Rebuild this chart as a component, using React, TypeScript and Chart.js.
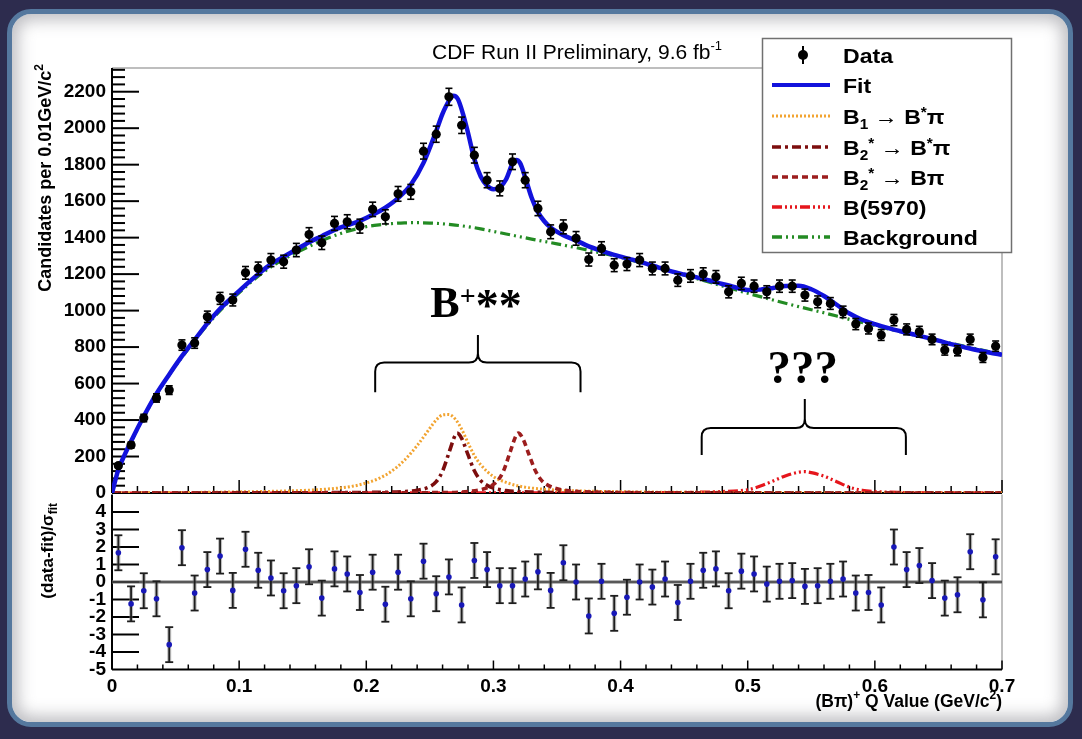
import React, { useEffect, useRef } from "react";
import { Chart, registerables } from "chart.js";

Chart.register(...registerables);

// ---------------- data ----------------
const binCenters = [0.005, 0.015, 0.025, 0.035, 0.045, 0.055, 0.065, 0.075, 0.085, 0.095,
  0.105, 0.115, 0.125, 0.135, 0.145, 0.155, 0.165, 0.175, 0.185, 0.195,
  0.205, 0.215, 0.225, 0.235, 0.245, 0.255, 0.265, 0.275, 0.285, 0.295,
  0.305, 0.315, 0.325, 0.335, 0.345, 0.355, 0.365, 0.375, 0.385, 0.395,
  0.405, 0.415, 0.425, 0.435, 0.445, 0.455, 0.465, 0.475, 0.485, 0.495,
  0.505, 0.515, 0.525, 0.535, 0.545, 0.555, 0.565, 0.575, 0.585, 0.595,
  0.605, 0.615, 0.625, 0.635, 0.645, 0.655, 0.665, 0.675, 0.685, 0.695];

const candidates = [150, 263, 411, 521, 564, 811, 822, 966, 1067, 1058,
  1207, 1231, 1277, 1268, 1332, 1417, 1372, 1478, 1487, 1463,
  1555, 1514, 1640, 1651, 1874, 1967, 2172, 2016, 1852, 1715,
  1670, 1816, 1715, 1560, 1432, 1459, 1396, 1280, 1341, 1249,
  1255, 1277, 1231, 1231, 1167, 1190, 1200, 1185, 1103, 1149,
  1134, 1103, 1134, 1134, 1085, 1048, 1039, 993, 926, 902,
  866, 948, 897, 884, 842, 784, 780, 842, 743, 805];

const pulls = [1.67, -1.25, -0.5, -0.96, -3.58, 1.96, -0.63, 0.71, 1.48, -0.48,
  1.87, 0.67, 0.23, -0.5, -0.21, 0.87, -0.92, 0.75, 0.46, -0.6,
  0.56, -1.27, 0.56, -0.96, 1.19, -0.67, 0.29, -1.31, 1.23, 0.71,
  -0.21, -0.21, 0.17, 0.58, -0.48, 1.1, 0.0, -1.94, 0.04, -1.79,
  -0.87, 0.0, -0.29, 0.17, -1.17, 0.04, 0.67, 0.75, -0.5, 0.62,
  0.46, -0.12, 0.04, 0.08, -0.25, -0.21, 0.04, 0.17, -0.63, -0.6,
  -1.31, 2.0, 0.71, 0.94, 0.08, -0.92, -0.73, 1.73, -1.02, 1.44];

const fitQ = [0, 0.005, 0.01, 0.015, 0.025, 0.035, 0.045, 0.055, 0.065, 0.075, 0.085, 0.095,
  0.105, 0.115, 0.125, 0.135, 0.145, 0.155, 0.165, 0.175, 0.185, 0.195, 0.205, 0.215, 0.225,
  0.235, 0.245, 0.255, 0.26, 0.265, 0.2685, 0.272, 0.276, 0.28, 0.285, 0.29, 0.295, 0.3, 0.305,
  0.31, 0.315, 0.318, 0.321, 0.325, 0.33, 0.335, 0.34, 0.345, 0.355, 0.365, 0.375, 0.385, 0.395,
  0.41, 0.42, 0.43, 0.44, 0.45, 0.46, 0.47, 0.48, 0.49, 0.5, 0.51, 0.52, 0.53, 0.54, 0.55, 0.56,
  0.57, 0.58, 0.59, 0.6, 0.61, 0.62, 0.63, 0.64, 0.65, 0.66, 0.67, 0.68, 0.69, 0.7];
const fitV = [0, 128, 210, 284, 421, 545, 650, 750, 840, 930, 1010, 1075,
  1140, 1200, 1255, 1295, 1335, 1375, 1408, 1442, 1468, 1492, 1525, 1565, 1617,
  1690, 1810, 1985, 2080, 2150, 2178, 2160, 2080, 1975, 1830, 1735, 1685, 1665, 1675,
  1720, 1805, 1825, 1808, 1730, 1620, 1540, 1490, 1455, 1413, 1385, 1352, 1328, 1305,
  1278, 1258, 1236, 1215, 1198, 1182, 1165, 1146, 1128, 1113, 1115, 1124, 1135, 1136, 1117, 1080,
  1032, 984, 950, 926, 905, 887, 870, 853, 835, 816, 800, 784, 770, 758];

const bgQ = [0, 0.005, 0.01, 0.02, 0.03, 0.04, 0.05, 0.06, 0.07, 0.08, 0.09, 0.1, 0.11, 0.12,
  0.13, 0.14, 0.15, 0.16, 0.17, 0.18, 0.19, 0.2, 0.21, 0.22, 0.23, 0.24, 0.25, 0.26, 0.27, 0.28,
  0.29, 0.3, 0.31, 0.32, 0.33, 0.34, 0.35, 0.36, 0.37, 0.38, 0.39, 0.4, 0.42, 0.44, 0.46, 0.48,
  0.5, 0.52, 0.54, 0.56, 0.58, 0.6, 0.62, 0.64, 0.66, 0.68, 0.7];
const bgV = [0, 126, 208, 350, 480, 595, 697, 790, 880, 962, 1035, 1098, 1160, 1215,
  1262, 1300, 1335, 1368, 1398, 1423, 1444, 1460, 1470, 1477, 1481, 1482, 1480, 1476, 1469, 1460,
  1448, 1434, 1420, 1406, 1392, 1379, 1366, 1352, 1338, 1323, 1308, 1292, 1255, 1215, 1175, 1135,
  1095, 1058, 1022, 988, 952, 918, 884, 852, 820, 790, 758];

const b1Q = [0, 0.1, 0.15, 0.17, 0.19, 0.2, 0.21, 0.22, 0.23, 0.24, 0.25, 0.255, 0.26, 0.265,
  0.27, 0.275, 0.28, 0.285, 0.29, 0.3, 0.31, 0.32, 0.33, 0.35, 0.4, 0.5, 0.7];
const b1V = [0, 6, 14, 22, 38, 55, 80, 120, 180, 260, 355, 400, 428, 430,
  405, 350, 275, 205, 155, 90, 58, 38, 27, 16, 7, 3, 1];

const b2BstarQ = [0, 0.2, 0.23, 0.24, 0.25, 0.255, 0.26, 0.265, 0.27, 0.2715, 0.275, 0.28,
  0.285, 0.29, 0.295, 0.3, 0.31, 0.33, 0.4, 0.7];
const b2BstarV = [0, 3, 8, 15, 35, 62, 120, 220, 318, 328, 300, 210, 122, 68, 42, 27, 13, 5, 1, 0];

const b2BQ = [0, 0.26, 0.28, 0.29, 0.298, 0.303, 0.308, 0.313, 0.318, 0.3195, 0.323, 0.328,
  0.333, 0.338, 0.343, 0.348, 0.358, 0.38, 0.45, 0.7];
const b2BV = [0, 2, 8, 18, 38, 65, 122, 222, 318, 328, 300, 210, 122, 68, 42, 27, 13, 5, 1, 0];

const b5970Q = [0, 0.4, 0.45, 0.48, 0.5, 0.505, 0.51, 0.52, 0.53, 0.54, 0.545, 0.55, 0.56,
  0.57, 0.58, 0.585, 0.59, 0.6, 0.62, 0.65, 0.7];
const b5970V = [0, 1, 3, 8, 18, 26, 38, 66, 95, 114, 117, 112, 92, 62, 32, 22, 15, 8, 3, 1, 0];

const topYTicks = [0, 200, 400, 600, 800, 1000, 1200, 1400, 1600, 1800, 2000, 2200];
const resYTicks = [-5, -4, -3, -2, -1, 0, 1, 2, 3, 4];
const xTickValues = [0, 0.1, 0.2, 0.3, 0.4, 0.5, 0.6, 0.7];
const xTickLabels = ["0", "0.1", "0.2", "0.3", "0.4", "0.5", "0.6", "0.7"];

// ---------------- styles ----------------
const SANS = "'Liberation Sans', Arial, Helvetica, 'DejaVu Sans', sans-serif";
const SERIF = "'Liberation Serif', 'Times New Roman', 'DejaVu Serif', serif";
const C_FIT = "#1212dc";
const C_B1 = "#f2a431";
const C_B2BS = "#7c0d0d";
const C_B2B = "#9c1d1d";
const C_B5970 = "#e5161c";
const C_BG = "#238b23";
const D_B1 = [2, 2];
const D_B2BS = [9, 4, 3, 4];
const D_B2B = [6, 4];
const D_B5970 = [10, 3, 2, 3, 2, 3, 2, 3];
const D_BG = [10, 4, 2, 4, 2, 4];

function pts(q: number[], v: number[]) {
  return q.map((x, i) => ({ x, y: v[i] }));
}

function seg(ctx: CanvasRenderingContext2D, x1: number, y1: number, x2: number, y2: number) {
  ctx.beginPath();
  ctx.moveTo(x1, y1);
  ctx.lineTo(x2, y2);
  ctx.stroke();
}

type Seg = { t: string; size: number; dy?: number };

function measureSegs(ctx: CanvasRenderingContext2D, segs: Seg[], family: string, weight: string) {
  let w = 0;
  for (const s of segs) {
    ctx.font = `${weight} ${s.size}px ${family}`;
    w += ctx.measureText(s.t).width;
  }
  return w;
}

function drawSegs(ctx: CanvasRenderingContext2D, segs: Seg[], x: number, y: number,
  family: string, weight: string, stretch = 1) {
  ctx.save();
  ctx.translate(x, y);
  ctx.scale(stretch, 1);
  ctx.textBaseline = "alphabetic";
  ctx.textAlign = "left";
  let cx = 0;
  for (const s of segs) {
    ctx.font = `${weight} ${s.size}px ${family}`;
    ctx.fillText(s.t, cx, s.dy || 0);
    cx += ctx.measureText(s.t).width;
  }
  ctx.restore();
  return cx * stretch;
}

function drawRotatedTop(ctx: CanvasRenderingContext2D, segs: Seg[], xBase: number, yTop: number,
  family: string, weight: string) {
  const w = measureSegs(ctx, segs, family, weight);
  ctx.save();
  ctx.translate(xBase, yTop);
  ctx.rotate(-Math.PI / 2);
  drawSegs(ctx, segs, -w, 0, family, weight);
  ctx.restore();
}

function drawBrace(ctx: CanvasRenderingContext2D, xs: any, ys: any,
  q1: number, q2: number, qm: number, vBar: number, vTip: number, vEnd: number) {
  const x1 = xs.getPixelForValue(q1), x2 = xs.getPixelForValue(q2), xm = xs.getPixelForValue(qm);
  const yb = ys.getPixelForValue(vBar), yt = ys.getPixelForValue(vTip), ye = ys.getPixelForValue(vEnd);
  const r = 9;
  ctx.save();
  ctx.strokeStyle = "#000";
  ctx.lineWidth = 2;
  ctx.lineJoin = "round";
  ctx.beginPath();
  ctx.moveTo(x1, ye);
  ctx.lineTo(x1, yb + r);
  ctx.quadraticCurveTo(x1, yb, x1 + r, yb);
  ctx.lineTo(xm - r, yb);
  ctx.quadraticCurveTo(xm, yb, xm, yb - r);
  ctx.lineTo(xm, yt);
  ctx.moveTo(xm, yb - r);
  ctx.quadraticCurveTo(xm, yb, xm + r, yb);
  ctx.lineTo(x2 - r, yb);
  ctx.quadraticCurveTo(x2, yb, x2, yb + r);
  ctx.lineTo(x2, ye);
  ctx.stroke();
  ctx.restore();
}

// ---------------- plugins ----------------
const topPlugin = {
  id: "topDecor",
  beforeDatasetsDraw(chart: any) {
    const { ctx, chartArea: a } = chart;
    const xs = chart.scales.x, ys = chart.scales.y;
    ctx.save();
    ctx.strokeStyle = "#a8a8a8";
    ctx.lineWidth = 1.5;
    seg(ctx, a.left, a.top, a.right, a.top);
    seg(ctx, a.right, a.top, a.right, a.bottom);
    ctx.strokeStyle = "#000";
    ctx.lineWidth = 2;
    seg(ctx, a.left, a.top, a.left, a.bottom);
    seg(ctx, a.left, a.bottom, a.right, a.bottom);
    for (let v = 0; v <= ys.max; v += 40) {
      const py = ys.getPixelForValue(v);
      const major = v % 200 === 0;
      seg(ctx, a.left, py, a.left + (major ? 27 : 13), py);
    }
    ctx.lineWidth = 1.5;
    for (let k = 0; k <= 35; k++) {
      const px = xs.getPixelForValue(k * 0.02);
      seg(ctx, px, a.bottom, px, a.bottom - (k % 5 === 0 ? 13 : 7));
    }
    ctx.restore();
  },
  afterDatasetDraw(chart: any, args: any) {
    if (args.index !== 1) return;
    const { ctx } = chart;
    const xs = chart.scales.x, ys = chart.scales.y;
    ctx.save();
    ctx.strokeStyle = "#000";
    ctx.lineWidth = 1.6;
    binCenters.forEach((q, i) => {
      const c = candidates[i];
      const e = Math.sqrt(c);
      const px = xs.getPixelForValue(q);
      const y1 = ys.getPixelForValue(c + e), y2 = ys.getPixelForValue(c - e);
      seg(ctx, px, y1, px, y2);
      seg(ctx, px - 3.5, y1, px + 3.5, y1);
      seg(ctx, px - 3.5, y2, px + 3.5, y2);
    });
    ctx.restore();
  },
  afterDraw(chart: any) {
    const { ctx } = chart;
    const xs = chart.scales.x, ys = chart.scales.y;
    ctx.save();
    ctx.fillStyle = "#000";
    // title
    drawSegs(ctx, [
      { t: "CDF Run II Preliminary, 9.6 fb", size: 21 },
      { t: "-1", size: 13, dy: -9 },
    ], 432, 59, SANS, "normal");
    // y title
    drawRotatedTop(ctx, [
      { t: "Candidates per 0.01GeV/", size: 18 },
      { t: "c", size: 18 },
      { t: "2", size: 12, dy: -8 },
    ], 51, 64, SANS, "bold");

    // annotations
    drawBrace(ctx, xs, ys, 0.207, 0.3685, 0.2878, 715, 866, 553);
    drawBrace(ctx, xs, ys, 0.4638, 0.6244, 0.5449, 356, 515, 208);
    const bx = xs.getPixelForValue(0.2504), by = ys.getPixelForValue(964);
    ctx.fillStyle = "#000";
    ctx.textBaseline = "alphabetic";
    ctx.textAlign = "left";
    ctx.font = `bold 44px ${SERIF}`;
    ctx.fillText("B", bx, by);
    const wB = ctx.measureText("B").width;
    ctx.font = `bold 28px ${SERIF}`;
    ctx.fillText("+", bx + wB, by - 12);
    const wP = ctx.measureText("+").width;
    ctx.font = `bold 46px ${SERIF}`;
    ctx.fillText("**", bx + wB + wP, by + 4);
    ctx.textAlign = "center";
    ctx.font = `bold 47px ${SERIF}`;
    ctx.fillText("???", xs.getPixelForValue(0.5433), ys.getPixelForValue(603));

    // legend
    const L = 762, T = 38, W = 250, H = 215;
    ctx.fillStyle = "#fff";
    ctx.fillRect(L, T, W, H);
    ctx.strokeStyle = "#707070";
    ctx.lineWidth = 1.5;
    ctx.strokeRect(L + 0.5, T + 0.5, W - 1, H - 1);
    const rows = [55, 85, 116, 147, 177, 207, 237];
    const sx1 = 772, sx2 = 830, tx = 843;
    ctx.fillStyle = "#000";
    ctx.strokeStyle = "#000";
    ctx.lineWidth = 2;
    seg(ctx, 803, rows[0] - 9, 803, rows[0] + 9);
    ctx.beginPath();
    ctx.arc(803, rows[0], 5, 0, Math.PI * 2);
    ctx.fill();
    const sample = (y: number, color: string, dash: number[], w: number) => {
      ctx.save();
      ctx.strokeStyle = color;
      ctx.lineWidth = w;
      ctx.setLineDash(dash);
      seg(ctx, sx1, y, sx2, y);
      ctx.restore();
    };
    sample(rows[1], C_FIT, [], 4);
    sample(rows[2], C_B1, D_B1, 3);
    sample(rows[3], C_B2BS, D_B2BS, 3.5);
    sample(rows[4], C_B2B, D_B2B, 3.5);
    sample(rows[5], C_B5970, D_B5970, 3.5);
    sample(rows[6], C_BG, D_BG, 3.5);
    ctx.fillStyle = "#000";
    const st = 1.1;
    const fs = 21;
    const bl = 7.5;
    drawSegs(ctx, [{ t: "Data", size: fs }], tx, rows[0] + bl, SANS, "bold", st);
    drawSegs(ctx, [{ t: "Fit", size: fs }], tx, rows[1] + bl, SANS, "bold", st);
    drawSegs(ctx, [
      { t: "B", size: fs }, { t: "1", size: 14, dy: 5 }, { t: " \u2192 ", size: fs },
      { t: "B", size: fs }, { t: "*", size: 14, dy: -7 }, { t: "\u03c0", size: fs },
    ], tx, rows[2] + bl, SANS, "bold", st);
    drawSegs(ctx, [
      { t: "B", size: fs }, { t: "2", size: 14, dy: 5 }, { t: "*", size: 14, dy: -7 }, { t: " \u2192 ", size: fs },
      { t: "B", size: fs }, { t: "*", size: 14, dy: -7 }, { t: "\u03c0", size: fs },
    ], tx, rows[3] + bl, SANS, "bold", st);
    drawSegs(ctx, [
      { t: "B", size: fs }, { t: "2", size: 14, dy: 5 }, { t: "*", size: 14, dy: -7 }, { t: " \u2192 ", size: fs },
      { t: "B\u03c0", size: fs },
    ], tx, rows[4] + bl, SANS, "bold", st);
    drawSegs(ctx, [{ t: "B(5970)", size: fs }], tx, rows[5] + bl, SANS, "bold", st);
    drawSegs(ctx, [{ t: "Background", size: fs }], tx, rows[6] + bl, SANS, "bold", st);
    ctx.restore();
  },
};

const resPlugin = {
  id: "resDecor",
  beforeDatasetsDraw(chart: any) {
    const { ctx, chartArea: a } = chart;
    const xs = chart.scales.x, ys = chart.scales.y;
    ctx.save();
    ctx.strokeStyle = "#a8a8a8";
    ctx.lineWidth = 1.5;
    seg(ctx, a.right, a.top, a.right, a.bottom);
    ctx.strokeStyle = "#000";
    ctx.lineWidth = 2;
    seg(ctx, a.left, a.top, a.left, a.bottom);
    seg(ctx, a.left, a.bottom, a.right, a.bottom);
    for (let v = -4; v <= 4; v++) {
      const py = ys.getPixelForValue(v);
      seg(ctx, a.left, py, a.left + 27, py);
    }
    ctx.lineWidth = 1.5;
    for (let k = 0; k <= 35; k++) {
      const px = xs.getPixelForValue(k * 0.02);
      seg(ctx, px, a.bottom, px, a.bottom - (k % 5 === 0 ? 9 : 5));
    }
    const y0 = ys.getPixelForValue(0);
    ctx.strokeStyle = "rgba(120,120,120,0.55)";
    ctx.lineWidth = 4;
    seg(ctx, a.left, y0, a.right, y0);
    ctx.strokeStyle = "#3a3a3a";
    ctx.lineWidth = 1.3;
    seg(ctx, a.left, y0, a.right, y0);
    binCenters.forEach((q, i) => {
      const px = xs.getPixelForValue(q);
      const y1 = ys.getPixelForValue(pulls[i] + 1), y2 = ys.getPixelForValue(pulls[i] - 1);
      ctx.strokeStyle = "rgba(110,110,110,0.45)";
      ctx.lineWidth = 4;
      seg(ctx, px, y1, px, y2);
      ctx.strokeStyle = "#1e1e1e";
      ctx.lineWidth = 1.8;
      seg(ctx, px, y1, px, y2);
      seg(ctx, px - 4, y1, px + 4, y1);
      seg(ctx, px - 4, y2, px + 4, y2);
    });
    ctx.restore();
  },
  afterDraw(chart: any) {
    const { ctx } = chart;
    ctx.save();
    ctx.fillStyle = "#000";
    drawRotatedTop(ctx, [
      { t: "(data-fit)/\u03c3", size: 17 },
      { t: "fit", size: 12, dy: 4 },
    ], 53, 503, SANS, "bold");
    const segs: Seg[] = [
      { t: "(B\u03c0)", size: 17.5 },
      { t: "+", size: 12, dy: -8 },
      { t: " Q Value (GeV/c", size: 17.5 },
      { t: "2", size: 12, dy: -8 },
      { t: ")", size: 17.5 },
    ];
    const w = measureSegs(ctx, segs, SANS, "bold");
    drawSegs(ctx, segs, 1002 - w, 707, SANS, "bold");
    ctx.restore();
  },
};

const tickFont = { family: SANS, size: 19, weight: "bold" as const };

export default function App() {
  const topRef = useRef<HTMLCanvasElement>(null);
  const botRef = useRef<HTMLCanvasElement>(null);

  useEffect(() => {
    const lineDs = (label: string, q: number[], v: number[], color: string, dash: number[], w: number) => ({
      label,
      data: pts(q, v),
      borderColor: color,
      borderWidth: w,
      borderDash: dash,
      pointRadius: 0,
      cubicInterpolationMode: "monotone" as const,
      fill: false,
    });

    const top = new Chart(topRef.current as HTMLCanvasElement, {
      type: "line",
      data: {
        datasets: [
          {
            label: "Data",
            data: pts(binCenters, candidates),
            showLine: false,
            pointRadius: 4.6,
            pointBackgroundColor: "#000",
            pointBorderColor: "#000",
            pointBorderWidth: 0,
          },
          lineDs("Fit", fitQ, fitV, C_FIT, [], 4.5),
          lineDs("Background", bgQ, bgV, C_BG, D_BG, 3.2),
          lineDs("B2* -> B pi", b2BQ, b2BV, C_B2B, D_B2B, 3.6),
          lineDs("B2* -> B* pi", b2BstarQ, b2BstarV, C_B2BS, D_B2BS, 3.6),
          lineDs("B1 -> B* pi", b1Q, b1V, C_B1, D_B1, 3),
          lineDs("B(5970)", b5970Q, b5970V, C_B5970, D_B5970, 3.2),
        ] as any,
      },
      options: {
        responsive: false,
        animation: false,
        events: [],
        layout: { padding: { left: 0, right: 80, top: 68, bottom: 246 } },
        plugins: { legend: { display: false }, tooltip: { enabled: false } },
        scales: {
          x: { type: "linear", min: 0, max: 0.7, display: false },
          y: {
            type: "linear",
            min: 0,
            max: 2330,
            grid: { display: false, drawTicks: false },
            border: { display: false },
            ticks: {
              color: "#000", font: tickFont, padding: 6, autoSkip: false,
              callback: (v: any) => String(Math.round(Number(v))),
            },
            afterBuildTicks: (s: any) => { s.ticks = topYTicks.map((v) => ({ value: v })); },
            afterFit: (s: any) => { s.width = 112; },
          },
        },
      },
      plugins: [topPlugin],
    });

    const bot = new Chart(botRef.current as HTMLCanvasElement, {
      type: "line",
      data: {
        datasets: [
          {
            label: "Pull",
            data: pts(binCenters, pulls),
            showLine: false,
            pointRadius: 2.8,
            pointBackgroundColor: "#1818b8",
            pointBorderColor: "#1818b8",
            pointBorderWidth: 0,
          },
        ] as any,
      },
      options: {
        responsive: false,
        animation: false,
        events: [],
        layout: { padding: { left: 0, right: 80, top: 494.5, bottom: 0 } },
        plugins: { legend: { display: false }, tooltip: { enabled: false } },
        scales: {
          x: {
            type: "linear",
            min: 0,
            max: 0.7,
            grid: { display: false, drawTicks: false },
            border: { display: false },
            ticks: {
              color: "#000", font: tickFont, padding: 6, autoSkip: false, maxRotation: 0,
              callback: (v: any) => {
                const idx = xTickValues.findIndex((t) => Math.abs(t - Number(v)) < 1e-6);
                return idx >= 0 ? xTickLabels[idx] : "";
              },
            },
            afterBuildTicks: (s: any) => { s.ticks = xTickValues.map((v) => ({ value: v })); },
            afterFit: (s: any) => { s.height = 69.5; },
          },
          y: {
            type: "linear",
            min: -5,
            max: 5,
            grid: { display: false, drawTicks: false },
            border: { display: false },
            ticks: {
              color: "#000", font: tickFont, padding: 6, autoSkip: false,
              callback: (v: any) => String(Math.round(Number(v))),
            },
            afterBuildTicks: (s: any) => { s.ticks = resYTicks.map((v) => ({ value: v })); },
            afterFit: (s: any) => { s.width = 112; },
          },
        },
      },
      plugins: [resPlugin],
    });

    return () => {
      top.destroy();
      bot.destroy();
    };
  }, []);

  return (
    <div style={{ position: "fixed", left: 0, top: 0, width: 1082, height: 739, background: "#2d2c4e", overflow: "hidden" }}>
      <div
        style={{
          position: "absolute", left: 7, top: 9, width: 1056, height: 708,
          border: "5px solid #55789e", borderRadius: 24, background: "#fff",
          boxShadow: "inset 0 0 16px 6px rgba(110,110,120,0.45)",
        }}
      />
      <canvas ref={botRef} width={1082} height={739} style={{ position: "absolute", left: 0, top: 0 }} />
      <canvas ref={topRef} width={1082} height={739} style={{ position: "absolute", left: 0, top: 0 }} />
    </div>
  );
}
